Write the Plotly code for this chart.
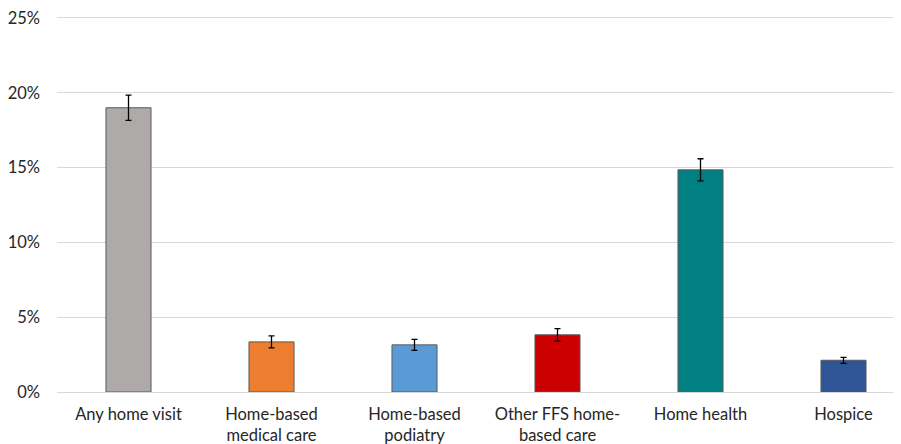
import plotly.graph_objects as go

categories = ["Any home visit", "Home-based<br>medical care", "Home-based<br>podiatry",
              "Other FFS home-<br>based care", "Home health", "Hospice"]
values = [19.0, 3.35, 3.15, 3.82, 14.85, 2.12]
errors = [0.85, 0.4, 0.37, 0.42, 0.74, 0.2]
colors = ["#AEAAAA", "#ED7D31", "#5B9BD5", "#CC0000", "#008080", "#2F5597"]
y_ticks = [0, 5, 10, 15, 20, 25]
y_ticktext = ["0%", "5%", "10%", "15%", "20%", "25%"]

fig = go.Figure()
fig.add_trace(go.Bar(
    x=list(range(len(categories))),
    y=values,
    marker=dict(color=colors, line=dict(color="#595959", width=1)),
    error_y=dict(type="data", array=errors, visible=True, color="#000000", thickness=1.3, width=3),
    width=0.315,
    showlegend=False,
))

fig.update_layout(
    width=901, height=444,
    margin=dict(l=49, r=0, t=4, b=60),
    plot_bgcolor="white", paper_bgcolor="white",
    font=dict(family="Lato, Noto Sans, sans-serif", size=16.5, color="#262626"),
    xaxis=dict(
        range=[-0.5, 5.458], automargin=False,
        tickmode="array", tickvals=list(range(len(categories))), ticktext=categories,
        showgrid=False, zeroline=False, showline=False,
        ticks="", ticklabelstandoff=10, ticklabeloverflow="allow",
    ),
    yaxis=dict(
        range=[0, 25.4], automargin=False, tickmode="array", tickvals=y_ticks, ticktext=y_ticktext,
        showgrid=True, gridcolor="#D9D9D9", gridwidth=1,
        zeroline=True, zerolinecolor="#D9D9D9", zerolinewidth=1,
        showline=False, ticks="", ticklabelstandoff=16, ticklabeloverflow="allow",
    ),
)

fig.write_html("out.html")
